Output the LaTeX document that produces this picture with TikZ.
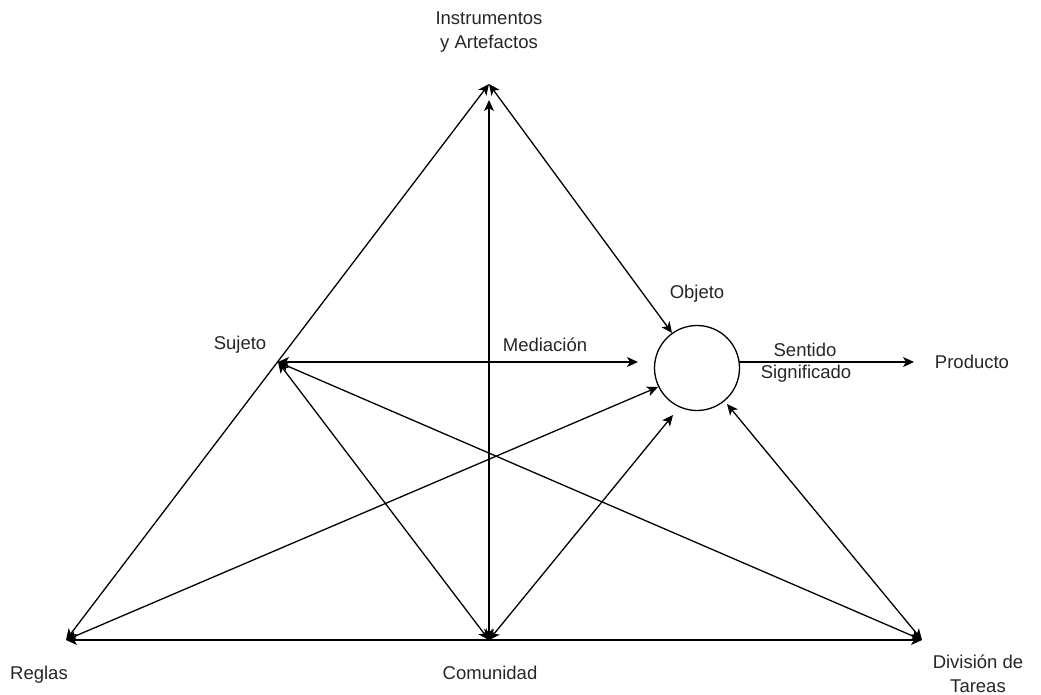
\documentclass[tikz,border=0pt]{standalone}
\usepackage{fontspec}
\setmainfont{Liberation Sans}
\usetikzlibrary{arrows.meta}
\tikzset{
  link/.style={line width=1.3pt, {Stealth[length=11pt,width=10pt,inset=3pt]}-{Stealth[length=11pt,width=10pt,inset=3pt]}},
  oneway/.style={line width=1.3pt, -{Stealth[length=11pt,width=10pt,inset=3pt]}},
  lbl/.style={font=\fontsize{18.5}{24}\selectfont, text=black!85, inner sep=0pt, align=center},
  objcircle/.style={circle, draw, line width=1.3pt, minimum size=85pt, inner sep=0pt}
}
\begin{document}
\begin{tikzpicture}[x=1pt,y=-1pt]
  \useasboundingbox (0,0) rectangle (1041,695);

  % corners of the activity triangle
  \coordinate (top) at (489,84);
  \coordinate (topv) at (489,100);
  \coordinate (suj) at (278,362);
  \coordinate (reg) at (66,640);
  \coordinate (com) at (489,640);
  \coordinate (div) at (922,640);

  % object
  \node[objcircle] (obj) at (697,368) {};
  \coordinate (medend) at (638,362);
  \coordinate (objtop) at (672,333);
  \coordinate (objleft) at (658,387);
  \coordinate (objbot) at (673,415);
  \coordinate (objright) at (727,404);
  \coordinate (objeast) at (739,362);
  \coordinate (prod) at (914,362);

  % connectors
  \draw[link] (reg) -- (top);
  \draw[link] (com) -- (topv);
  \draw[link] (top) -- (objtop);
  \draw[link] (suj) -- (medend);
  \draw[link] (suj) -- (com);
  \draw[link] (suj) -- (div);
  \draw[link] (reg) -- (objleft);
  \draw[link] (com) -- (objbot);
  \draw[link] (div) -- (objright);
  \draw[link] (reg) -- (div);
  \draw[oneway] (objeast) -- (prod);

  % labels
  \node[lbl] (linst) at (489,32) {Instrumentos\\y Artefactos};
  \node[lbl] (lobj) at (697,294) {Objeto};
  \node[lbl] (lsuj) at (240,345) {Sujeto};
  \node[lbl] (lmed) at (545,345) {Mediación};
  \node[lbl] (lsen) at (805,350) {Sentido};
  \node[lbl] (lsig) at (806,374) {Significado};
  \node[lbl] (lprod) at (972,362) {Producto};
  \node[lbl] (lreg) at (39,675) {Reglas};
  \node[lbl] (lcom) at (490,673) {Comunidad};
  \node[lbl] (ldiv) at (978,674) {División de\\Tareas};
\end{tikzpicture}
\end{document}
